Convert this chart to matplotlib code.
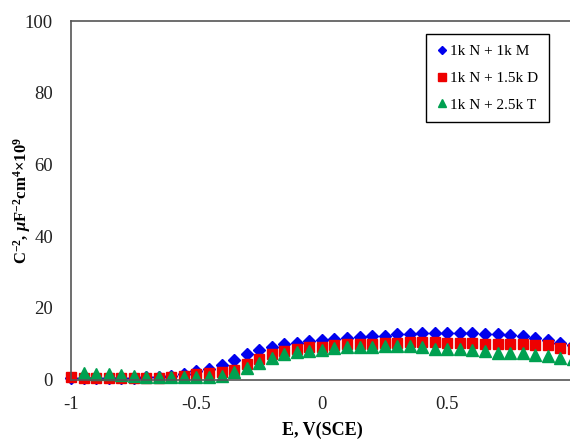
import matplotlib
matplotlib.use("Agg")
import matplotlib.pyplot as plt

plt.rcParams['font.family'] = ['Liberation Serif', 'DejaVu Serif']
plt.rcParams['mathtext.fontset'] = 'custom'
plt.rcParams['mathtext.rm'] = 'Liberation Serif:bold'
plt.rcParams['mathtext.it'] = 'Liberation Serif:italic:bold'
plt.rcParams['mathtext.bf'] = 'Liberation Serif:bold'

# potential, V(SCE)
e_all = [-1.0, -0.95, -0.9, -0.85, -0.8, -0.75, -0.7, -0.65, -0.6, -0.55,
         -0.5, -0.45, -0.4, -0.35, -0.3, -0.25, -0.2, -0.15, -0.1, -0.05,
         0.0, 0.05, 0.1, 0.15, 0.2, 0.25, 0.3, 0.35, 0.4, 0.45,
         0.5, 0.55, 0.6, 0.65, 0.7, 0.75, 0.8, 0.85, 0.9, 0.95, 1.0]
e_tri = e_all[1:]

c_m = [0.5, 0.5, 0.5, 0.5, 0.5, 0.5, 0.6, 0.7, 0.9, 1.6,
       2.3, 3.0, 4.1, 5.5, 7.0, 8.1, 9.0, 10.0, 10.3, 10.7,
       11.1, 11.4, 11.6, 11.8, 12.0, 12.2, 12.6, 12.8, 12.9, 12.9,
       13.1, 12.9, 12.9, 12.8, 12.6, 12.3, 12.0, 11.7, 11.1, 10.2, 9.6]
c_d = [0.6, 0.3, 0.3, 0.3, 0.3, 0.3, 0.4, 0.5, 0.7, 1.1,
       1.4, 1.8, 2.0, 2.7, 4.4, 5.8, 7.2, 7.9, 8.6, 9.0,
       9.2, 9.6, 9.8, 9.8, 10.0, 10.1, 10.3, 10.4, 10.5, 10.5,
       10.3, 10.2, 10.1, 9.8, 9.8, 9.8, 9.8, 9.6, 9.5, 8.9, 8.5]
c_t = [1.8, 1.6, 1.4, 1.3, 1.0, 0.8, 0.8, 0.8, 0.7,
       0.7, 0.8, 1.1, 2.0, 3.3, 4.6, 6.0, 7.2, 7.6, 7.9,
       8.3, 8.7, 9.0, 9.2, 9.2, 9.4, 9.4, 9.4, 9.2, 8.6,
       8.4, 8.4, 8.1, 7.9, 7.3, 7.5, 7.3, 6.8, 6.6, 6.1, 5.7]

labels = ["1k N + 1k M", "1k N + 1.5k D", "1k N + 2.5k T"]

fig = plt.figure(figsize=(5.7, 4.4), dpi=100)
ax = fig.add_axes([0.1246, 0.1375, 0.8804, 0.8147])

ax.plot(e_all, c_m, linestyle='none', marker='D', ms=6.3, color='#0000ee',
        label=labels[0], clip_on=False)
ax.plot(e_all, c_d, linestyle='none', marker='s', ms=7.8, color='#ee0000',
        label=labels[1], clip_on=False)
ax.plot(e_tri, c_t, linestyle='none', marker='^', ms=8.5, color='#00a050',
        label=labels[2], clip_on=False)

ax.set_xlim(-1, 1)
ax.set_ylim(0, 100)
ax.set_xticks([-1, -0.5, 0, 0.5])
ax.set_xticklabels(['-1', '-0.5', '0', '0.5'])
ax.set_yticks([0, 20, 40, 60, 80, 100])
ax.tick_params(length=0, labelsize=13.5, colors='#222222')
ax.tick_params(axis='x', pad=12)
ax.tick_params(axis='y', pad=13)
for s in ax.spines.values():
    s.set_color('#555555')
    s.set_linewidth(1.2)
ax.spines['right'].set_visible(False)

ax.set_xlabel('E, V(SCE)', fontsize=13, fontweight='bold', labelpad=6)
ax.set_ylabel(r'C$^{-2}$, $\mathit{\mu}$F$^{-2}$cm$^{4}$$\times$10$^{9}$',
              fontsize=12, fontweight='bold')
ax.yaxis.set_label_coords(-0.076, 0.5)

leg = ax.legend(loc='upper right', bbox_to_anchor=(0.952, 0.964), fontsize=11,
                markerscale=0.7, handlelength=0.6, handletextpad=0.25,
                borderpad=0.7, labelspacing=0.85, fancybox=False,
                framealpha=1, edgecolor='black', borderaxespad=0)
leg.get_frame().set_linewidth(1.0)

fig.savefig('out.png', dpi=100)
